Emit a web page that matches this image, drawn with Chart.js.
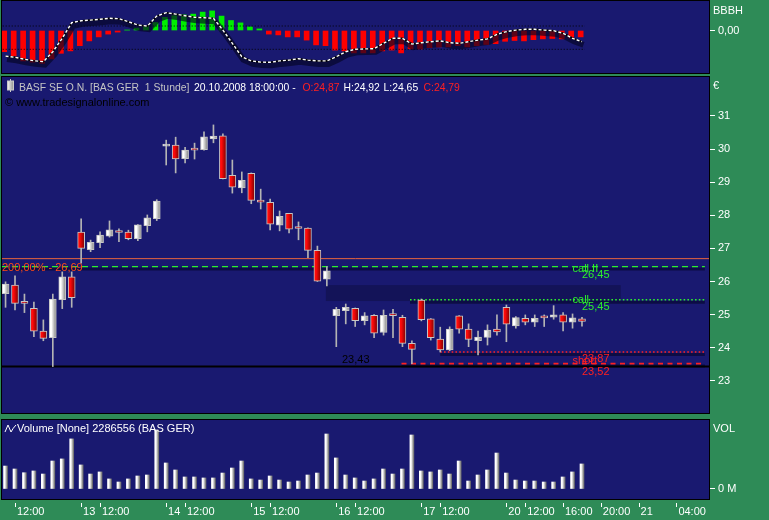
<!DOCTYPE html>
<html><head><meta charset="utf-8">
<script src="https://cdn.jsdelivr.net/npm/chart.js"></script>
<style>
html,body{margin:0;padding:0;background:#2e8b57;width:769px;height:520px;overflow:hidden}
canvas{position:absolute;left:0}
</style></head><body>
<canvas id="ind" width="769" height="75" style="top:0;width:769px;height:75px"></canvas>
<canvas id="main" width="769" height="341" style="top:75px;width:769px;height:341px"></canvas>
<canvas id="vol" width="769" height="104" style="top:416px;width:769px;height:104px"></canvas>
<script>
// ---------- data ----------
const barTimes = [
 '10.10. 11:00','10.10. 12:00','10.10. 13:00','10.10. 14:00','10.10. 15:00','10.10. 16:00','10.10. 17:00','10.10. 18:00',
 '13.10. 10:00','13.10. 11:00','13.10. 12:00','13.10. 13:00','13.10. 14:00','13.10. 15:00','13.10. 16:00','13.10. 17:00','13.10. 18:00',
 '14.10. 10:00','14.10. 11:00','14.10. 12:00','14.10. 13:00','14.10. 14:00','14.10. 15:00','14.10. 16:00','14.10. 17:00','14.10. 18:00',
 '15.10. 10:00','15.10. 11:00','15.10. 12:00','15.10. 13:00','15.10. 14:00','15.10. 15:00','15.10. 16:00','15.10. 17:00','15.10. 18:00',
 '16.10. 10:00','16.10. 11:00','16.10. 12:00','16.10. 13:00','16.10. 14:00','16.10. 15:00','16.10. 16:00','16.10. 17:00','16.10. 18:00',
 '17.10. 10:00','17.10. 11:00','17.10. 12:00','17.10. 13:00','17.10. 14:00','17.10. 15:00','17.10. 16:00','17.10. 17:00','17.10. 18:00',
 '20.10. 10:00','20.10. 11:00','20.10. 12:00','20.10. 13:00','20.10. 14:00','20.10. 15:00','20.10. 16:00','20.10. 17:00','20.10. 18:00'
];
const open = [25.63,25.89,25.35,25.19,24.50,24.30,25.45,26.14, 27.49,26.96,27.17,27.37,27.49,27.49,27.29,27.69,27.90, 30.09,30.12,29.71,29.98,29.98,30.31,30.40,29.21,28.83, 29.27,28.41,28.39,27.70,28.06,27.61,27.61,26.94,26.07, 24.97,25.12,25.19,24.82,24.98,24.46,24.98,24.92,24.13, 25.44,24.87,24.26,23.93,24.96,24.56,24.21,24.31,24.56, 25.22,24.66,24.89,24.77,24.91,24.92,24.99,24.77,24.87];
const high = [25.99,26.17,25.62,25.38,24.84,25.62,26.29,26.29, 27.89,27.25,27.50,27.83,27.59,27.55,27.72,28.01,28.47, 30.27,30.36,30.05,30.18,30.52,30.73,30.46,29.67,29.31, 29.28,28.79,28.49,28.13,28.06,27.80,27.62,27.07,26.45, 25.22,25.32,25.20,25.06,25.00,25.14,25.16,24.98,24.21, 25.47,24.88,24.62,24.63,24.97,24.72,24.50,24.69,24.99, 25.29,24.94,24.99,24.99,24.99,25.27,25.06,25.02,24.92];
const low = [25.22,25.14,25.06,24.33,24.21,23.43,25.18,25.22, 26.55,26.90,27.02,27.34,27.20,27.26,27.23,27.50,27.84, 29.52,29.28,29.58,29.70,29.97,30.19,29.10,28.67,28.68, 28.35,28.19,27.56,27.53,27.47,27.26,26.72,26.00,25.87, 24.03,24.72,24.64,24.69,24.30,24.38,24.30,24.03,23.52, 24.81,24.23,23.87,23.91,24.44,24.03,23.78,24.08,24.38, 24.18,24.59,24.69,24.64,24.64,24.86,24.51,24.59,24.65];
const close = [25.92,25.34,25.34,24.50,24.28,25.47,26.14,25.51, 27.00,27.18,27.40,27.56,27.48,27.29,27.71,27.92,28.43, 30.11,29.70,29.97,29.97,30.37,30.39,29.11,28.85,29.06, 28.45,28.40,27.73,27.97,27.58,27.60,26.94,26.01,26.32, 25.16,25.22,24.82,24.96,24.44,24.98,24.97,24.13,23.95, 24.85,24.30,23.93,24.56,24.56,24.25,24.32,24.53,24.48, 24.71,24.91,24.77,24.89,24.90,24.99,24.77,24.90,24.79];
const volumeM = [2.10,1.83,1.49,1.65,1.37,2.56,2.75,4.58, 2.20,1.37,1.56,0.92,0.64,0.92,1.19,1.28,5.40, 2.38,1.74,1.10,1.10,1.01,1.01,1.46,1.92,2.56, 0.92,0.82,1.19,0.82,0.64,0.73,1.28,1.46,5.03, 2.84,1.28,1.01,0.73,0.92,1.83,1.37,1.83,4.94, 1.65,1.56,1.74,1.37,2.56,0.73,1.28,1.74,3.29, 1.46,0.82,0.73,0.73,0.64,0.64,1.10,1.56,2.29];
const histo = [-0.53,-0.64,-0.76,-0.79,-0.82,-0.71,-0.57,-0.51, -0.38,-0.26,-0.16,-0.09,-0.04,0.01,0.06,0.11,0.20, 0.33,0.37,0.39,0.41,0.46,0.49,0.36,0.25,0.19, 0.09,0.04,-0.09,-0.11,-0.16,-0.16,-0.24,-0.36,-0.38, -0.49,-0.51,-0.56,-0.56,-0.56,-0.51,-0.49,-0.56,-0.46, -0.46,-0.43,-0.41,-0.41,-0.38,-0.41,-0.38,-0.35,-0.33, -0.27,-0.25,-0.26,-0.23,-0.21,-0.20,-0.21,-0.19,-0.16];
const signal = [-0.64,-0.67,-0.72,-0.755,-0.78,-0.53,-0.195,0.195, 0.245,0.26,0.28,0.305,0.295,0.22,0.1375,0.11,0.36, 0.445,0.41,0.37,0.33,0.32,0.305,0.01,-0.32,-0.655, -0.76,-0.79,-0.795,-0.76,-0.74,-0.705,-0.74,-0.76,-0.76, -0.655,-0.53,-0.47,-0.46,-0.455,-0.32,-0.195,-0.195,-0.34, -0.305,-0.28,-0.26,-0.305,-0.32,-0.28,-0.24,-0.21,-0.095, -0.03,0.01,0.03,0.03,0.01,-0.005,-0.07,-0.195,-0.28];
const indLevels = [0.1125, -0.47];
const levelValues = [26.69, 26.45, 25.45, 23.87, 23.52, 23.43];
const levelFrom   = [-0.376, -0.376, 42.8, 46.0, 41.9, -0.376];
const levelTo     = [74.44, 74.0, 74.0, 74.0, 74.0, 74.44];
const zoneX = [33.9, 65.1];
const zoneY = [25.41, 25.89];
const priceTicks = [23,24,25,26,27,28,29,30,31];
const xTickIdx    = [1, 8, 10, 17, 19, 26, 28, 35, 37, 44, 46, 53, 55, 59, 63, 67, 71];
const xTickLabels = ['12:00','13','12:00','14','12:00','15','12:00','16','12:00','17','12:00','20','12:00','16:00','20:00','21','04:00'];

// ---------- styling ----------
const NAVY = '#191970';
const FONT = "'Liberation Sans', Arial, Helvetica, sans-serif";
const GREEN = '#2cf02c', RED = '#ff2020';
const X_MIN = -0.376, X_MAX = 74.44;
const idx = barTimes.map((_, i) => i);
const last = idx.length - 1;
const fmt2 = v => v.toFixed(2).replace('.', ',');

Chart.defaults.font.family = FONT;

function gradFill(light, dark, half) {
  return (c) => {
    const xs = c.chart.scales.x;
    if (c.type !== 'data' || !xs || !c.raw) return light;
    const px = xs.getPixelForValue(c.raw.x);
    if (!isFinite(px)) return light;
    const g = c.chart.ctx.createLinearGradient(px - half, 0, px + half, 0);
    g.addColorStop(0, light); g.addColorStop(0.3, light); g.addColorStop(1, dark);
    return g;
  };
}
const upFill = gradFill('#ffffff', '#7c7c7c', 3.5);
const dnFill = gradFill('#ff0a0a', '#780000', 3.5);
const volFill = gradFill('#ffffff', '#6a6a6a', 2);

const panelPlugin = {
  id: 'panel',
  beforeDraw(chart) {
    const { ctx, chartArea: a } = chart;
    ctx.save(); ctx.fillStyle = NAVY;
    ctx.fillRect(a.left, a.top, a.right - a.left, a.bottom - a.top);
    ctx.restore();
  },
  afterDraw(chart) {
    const { ctx, chartArea: a } = chart;
    ctx.save(); ctx.strokeStyle = '#000'; ctx.lineWidth = 1;
    ctx.strokeRect(a.left - 0.5, a.top - 0.5, a.right - a.left + 1, a.bottom - a.top + 1);
    ctx.restore();
  }
};
const shiftPlugin = {
  id: 'shift',
  beforeDatasetDraw(chart, args) {
    const ds = chart.data.datasets[args.index];
    if (ds.shift) { chart.ctx.save(); chart.ctx.translate(ds.shift[0], ds.shift[1]); }
  },
  afterDatasetDraw(chart, args) {
    const ds = chart.data.datasets[args.index];
    if (ds.shift) chart.ctx.restore();
  }
};
function text(ctx, t, x, y, color, size) {
  ctx.save(); ctx.font = (size || 11) + 'px ' + FONT; ctx.fillStyle = color;
  ctx.textBaseline = 'alphabetic'; ctx.textAlign = 'left'; ctx.fillText(t, x, y); ctx.restore();
}
function xAxis(display) {
  return { type: 'linear', min: X_MIN, max: X_MAX, offset: false, display,
    afterFit(s) { s.paddingLeft = 0; s.paddingRight = 0; },
    grid: { display: false, drawTicks: false }, border: { display: false } };
}
function rightAxis(min, max, ticks, fmt) {
  return { position: 'right', min, max,
    afterFit(s) { s.width = 60; s.paddingTop = 0; s.paddingBottom = 0; },
    afterBuildTicks(s) { s.ticks = ticks.map(v => ({ value: v })); },
    ticks: { color: '#fff', font: { family: FONT, size: 11 }, padding: 3, autoSkip: false, callback: fmt },
    grid: { drawOnChartArea: false, drawTicks: true, tickLength: 6, tickColor: '#fff', tickWidth: 1 },
    border: { display: false } };
}
function baseOpts(padding) {
  return { responsive: false, animation: false, devicePixelRatio: 1, events: [],
    layout: { padding }, plugins: { legend: { display: false }, tooltip: { enabled: false } } };
}
function hline(v, from, to, st, order, shift) {
  return { type: 'line', data: [{ x: from, y: v }, { x: to, y: v }], borderColor: st.color,
    borderWidth: st.width, borderDash: st.dash, pointRadius: 0, fill: false, order, shift };
}

// ---------- indicator panel ----------
{
  const o = baseOpts({ left: 2, top: 1, right: 0, bottom: 2 });
  o.scales = { x: xAxis(false), y: rightAxis(-1.0625, 0.7375, [0], v => '0,00') };
  const sig = idx.map(i => ({ x: i, y: signal[i] }));
  new Chart(document.getElementById('ind'), {
    type: 'bar',
    data: { datasets: [
      { type: 'bar', data: idx.map(i => ({ x: i - 0.14, y: histo[i] })), barThickness: 5, grouped: false,
        backgroundColor: c => (c.raw && c.raw.y >= 0 ? '#00ee00' : '#ff0000'), order: 6 },
      ...indLevels.map(v => hline(v, -0.3, last + 0.3, { color: '#000', width: 1, dash: [1, 2] }, 5)),
      { type: 'line', data: sig, borderColor: 'rgba(4,4,36,0.65)', borderWidth: 6, pointRadius: 0, order: 4, shift: [1.5, 3] },
      { type: 'line', data: sig, borderColor: '#000', borderWidth: 1.6, pointRadius: 0, order: 3 },
      { type: 'line', data: sig, borderColor: '#fff', borderWidth: 1.4, borderDash: [3, 2], pointRadius: 0, order: 2 }
    ] },
    options: o,
    plugins: [panelPlugin, shiftPlugin, { id: 'indtxt', afterDraw(chart) {
      text(chart.ctx, 'BBBH', chart.chartArea.right + 4, 14, '#fff', 11);
    } }]
  });
}

// ---------- price panel ----------
{
  const top = 75;
  const o = baseOpts({ left: 2, top: 2, right: 0, bottom: 3 });
  o.scales = { x: xAxis(false), y: rightAxis(22.027, 32.178, priceTicks, v => String(v)) };
  const styles = [
    { color: '#e8643c', width: 1, dash: [] },
    { color: GREEN, width: 1.3, dash: [6, 4] },
    { color: GREEN, width: 1.6, dash: [1.6, 2.2] },
    { color: RED, width: 1.6, dash: [1.6, 2.2] },
    { color: RED, width: 1.7, dash: [5, 4.5] },
    { color: '#000', width: 2, dash: [] }
  ];
  const shadowed = [false, true, true, true, true, false];
  const lineSets = [];
  levelValues.forEach((v, k) => {
    if (shadowed[k]) lineSets.push(hline(v, levelFrom[k], levelTo[k], { color: 'rgba(0,0,25,0.5)', width: 3, dash: [] }, 11, [0, 2.5]));
    lineSets.push(hline(v, levelFrom[k], levelTo[k], styles[k], 10));
  });
  new Chart(document.getElementById('main'), {
    type: 'bar',
    data: { datasets: [
      ...lineSets,
      { type: 'bar', data: idx.map(i => ({ x: i, y: [low[i], high[i]] })), barThickness: 1, grouped: false,
        backgroundColor: '#b4b4b4', order: 2 },
      { type: 'bar', data: idx.map(i => ({ x: i, y: [open[i], close[i]] })), barThickness: 7, grouped: false,
        minBarLength: 2, borderWidth: 1, borderSkipped: false, borderColor: '#c6c6c6',
        backgroundColor: c => (c.dataIndex !== undefined && close[c.dataIndex] >= open[c.dataIndex] ? upFill(c) : dnFill(c)), order: 1 }
    ] },
    options: o,
    plugins: [panelPlugin, shiftPlugin, {
      id: 'zone',
      beforeDatasetsDraw(chart) {
        const { ctx, scales: { x, y } } = chart;
        const x0 = x.getPixelForValue(zoneX[0]), x1 = x.getPixelForValue(zoneX[1]);
        const y0 = y.getPixelForValue(zoneY[1]), y1 = y.getPixelForValue(zoneY[0]);
        ctx.save(); ctx.fillStyle = '#131358'; ctx.fillRect(x0, y0, x1 - x0, y1 - y0); ctx.restore();
      },
      afterDatasetsDraw(chart) {
        const { ctx, scales: { x, y }, chartArea: a } = chart;
        const Y = v => y.getPixelForValue(v);
        const X = v => x.getPixelForValue(v);
        // header
        ctx.save(); ctx.strokeStyle = '#c8c8c8'; ctx.beginPath(); ctx.moveTo(10.5, 79 - top); ctx.lineTo(10.5, 92 - top); ctx.stroke();
        const g = ctx.createLinearGradient(7, 0, 14, 0); g.addColorStop(0, '#fff'); g.addColorStop(1, '#888');
        ctx.fillStyle = g; ctx.fillRect(7.5, 81 - top, 6, 9); ctx.strokeRect(7.5, 81 - top, 6, 9); ctx.restore();
        const hy = 90.5 - top, hs = 10.4;
        text(ctx, 'BASF SE O.N. [BAS GER  1 Stunde]', 19, hy, '#c4c4c4', hs);
        text(ctx, barTimes[last].replace('20.10. ', '20.10.2008 ') + ':00 -', 194, hy, '#fff', hs);
        text(ctx, 'O:' + fmt2(open[last]), 302.5, hy, '#ff2020', hs);
        text(ctx, 'H:' + fmt2(high[last]), 343.5, hy, '#fff', hs);
        text(ctx, 'L:' + fmt2(low[last]), 383.5, hy, '#fff', hs);
        text(ctx, 'C:' + fmt2(close[last]), 423.5, hy, '#ff2020', hs);
        text(ctx, '\u00a9 www.tradesignalonline.com', 5, 106 - top, '#000');
        // level labels
        text(ctx, '200,00% - ' + fmt2(levelValues[0]), a.left, Y(levelValues[0]) + 12.8, '#ff4a1a');
        text(ctx, 'call II', X(60), Y(levelValues[1]) + 5, GREEN);
        text(ctx, fmt2(levelValues[1]), X(61), Y(levelValues[1]) + 11.5, GREEN);
        text(ctx, 'call', X(60), Y(levelValues[2]) + 3.5, GREEN);
        text(ctx, fmt2(levelValues[2]), X(61), Y(levelValues[2]) + 10.5, GREEN);
        text(ctx, 'short', X(60), Y(levelValues[4]) + 0.5, RED);
        text(ctx, fmt2(levelValues[3]), X(61), Y(levelValues[3]) + 9.7, RED);
        text(ctx, fmt2(levelValues[4]), X(61), Y(levelValues[4]) + 11, RED);
        text(ctx, fmt2(levelValues[5]), X(35.6), Y(levelValues[5]) - 3.7, '#000');
      },
      afterDraw(chart) {
        text(chart.ctx, '\u20ac', chart.chartArea.right + 4, 89 - top, '#fff', 11);
      }
    }]
  });
}

// ---------- volume panel ----------
{
  const o = baseOpts({ left: 2, top: 4, right: 0, bottom: 0 });
  const xa = xAxis(true);
  xa.afterFit = s => { s.height = 21; s.paddingLeft = 0; s.paddingRight = 0; };
  xa.afterBuildTicks = s => { s.ticks = xTickIdx.map(v => ({ value: v + 0.2 })); };
  xa.ticks = { color: '#fff', font: { family: FONT, size: 11 }, align: 'start', maxRotation: 0, autoSkip: false, padding: 6,
    callback: v => { const k = xTickIdx.indexOf(Math.round(v - 0.2)); return k >= 0 ? xTickLabels[k] : ''; } };
  o.scales = { x: xa, y: rightAxis(-0.915, 6.31, [0], v => '0 M') };
  new Chart(document.getElementById('vol'), {
    type: 'bar',
    data: { datasets: [
      { type: 'bar', data: idx.map(i => ({ x: i, y: volumeM[i] })), barThickness: 4, grouped: false,
        backgroundColor: volFill }
    ] },
    options: o,
    plugins: [panelPlugin, {
      id: 'voltxt',
      afterDraw(chart) {
        const { ctx, chartArea: a, scales: { x } } = chart;
        ctx.save(); ctx.strokeStyle = '#fff'; ctx.lineWidth = 1; ctx.beginPath();
        xTickIdx.forEach(v => { const px = Math.round(x.getPixelForValue(v)) + 0.5; ctx.moveTo(px, a.bottom + 4); ctx.lineTo(px, a.bottom + 8); });
        ctx.stroke();
        ctx.beginPath(); ctx.moveTo(5, 16); ctx.lineTo(8, 9); ctx.lineTo(11, 16); ctx.quadraticCurveTo(13, 12, 16, 9); ctx.stroke();
        ctx.restore();
        text(ctx, 'Volume [None] ' + Math.round(volumeM[last] * 998496) + ' (BAS GER)', 17, 16, '#fff');
        text(ctx, 'VOL', a.right + 4, 15.5, '#fff', 11);
      }
    }]
  });
}
</script></body></html>
